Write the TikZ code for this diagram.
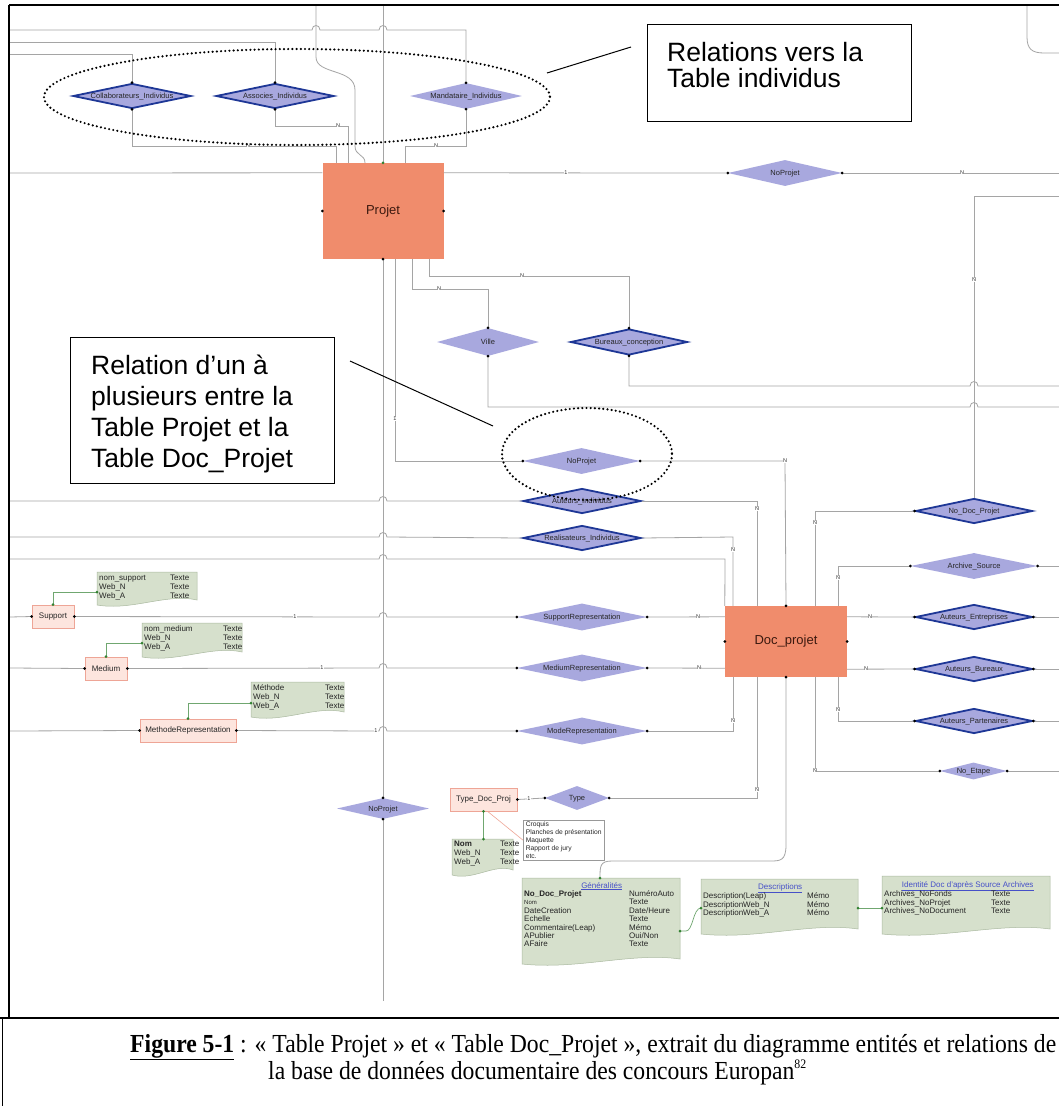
\documentclass[tikz,border=0pt]{standalone}
\usepackage{fontspec}
\usepackage{graphicx}
\setmainfont{Liberation Sans}
\newfontfamily\capfont{Liberation Serif}
\usetikzlibrary{shapes.geometric}
\definecolor{ln}{RGB}{165,165,165}
\definecolor{salm}{RGB}{240,140,108}
\definecolor{enttxt}{RGB}{60,25,15}
\definecolor{lav}{RGB}{168,168,222}
\definecolor{dblue}{RGB}{30,55,150}
\definecolor{pinkf}{RGB}{253,229,222}
\definecolor{pinkb}{RGB}{238,165,150}
\definecolor{tabf}{RGB}{214,224,204}
\definecolor{tabb}{RGB}{170,185,160}
\definecolor{gdot}{RGB}{50,130,50}
\definecolor{hblue}{RGB}{70,80,200}
\newcommand\zl[1]{\makebox[0pt]{#1}}
\tikzset{
  conn/.style={draw=ln, line width=0.8pt},
  gconn/.style={draw=gdot!70, line width=0.7pt},
  ent/.style={rectangle, fill=salm, inner sep=0pt, text=enttxt, font=\fontsize{13}{13}\selectfont},
  relL/.style={diamond, fill=lav, inner sep=0pt, text height=5pt, text depth=0pt, text=black!85, font=\fontsize{7.5}{8}\selectfont},
  relB/.style={relL, draw=dblue, line width=1.8pt},
  card/.style={fill=white, inner sep=0.5pt, font=\fontsize{5.5}{5.5}\selectfont, text=black!80},
  pbox/.style={rectangle, fill=pinkf, draw=pinkb, line width=0.6pt, inner sep=0pt, text=black!85, font=\fontsize{8}{8}\selectfont},
  ttxt/.style={anchor=north west, inner sep=0pt, text=black!85, font=\fontsize{8}{9}\selectfont, align=left},
  btxt/.style={anchor=north west, inner sep=0pt, text=black!85, font=\fontsize{8}{8.4}\selectfont, align=left},
  callbox/.style={draw=black, line width=1pt, rectangle, inner sep=0pt},
  calltxt/.style={anchor=north west, inner sep=0pt, align=left, font=\fontsize{26.5}{26}\selectfont},
  captxt/.style={anchor=base west, inner sep=0pt, font=\capfont\fontsize{26}{26}\selectfont},
  hop/.style 2 args={insert path={-- ({#1-4},#2) .. controls ({#1-4},{#2-6}) and ({#1+4},{#2-6}) .. ({#1+4},#2)}},
  dotted ring/.style={line width=2.4pt, line cap=round, dash pattern=on 0pt off 4.2pt},
}
\newcommand\doctab[4]{%
 \filldraw[fill=tabf, draw=tabb, line width=0.5pt] (#1,#2) -- ({#1+#3},#2) -- ({#1+#3},{#2+#4-5}) .. controls ({#1+0.7*#3},{#2+#4-12}) and ({#1+0.35*#3},{#2+#4+6}) .. (#1,{#2+#4}) -- cycle;}
\newcommand\bd[1]{\fill[black] (#1) circle (1.5pt);}
\newcommand\gd[1]{\fill[gdot] (#1) circle (1.5pt);}
\begin{document}
\begin{tikzpicture}[x=1pt,y=-1pt]
\useasboundingbox (0,0) rectangle (1059,1106);
\fill[white] (0,0) rectangle (1059,1106);

% ---------- entities ----------
\node[ent, minimum width=121pt, minimum height=96pt] (projet) at (383,211) {Projet};
\node[ent, minimum width=122pt, minimum height=71pt] (doc) at (786,641.5) {Doc\_projet};

% ---------- relations ----------
\node[relB, minimum width=118pt, minimum height=25pt] (collab) at (132,96) {\zl{Collaborateurs\_Individus}};
\node[relB, minimum width=118pt, minimum height=25pt] (assoc) at (275,96) {\zl{Associes\_Individus}};
\node[relL, minimum width=112pt, minimum height=26pt] (mand) at (466,96) {\zl{Mandataire\_Individus}};
\node[relL, minimum width=114pt, minimum height=26pt] (np1) at (785,173) {\zl{NoProjet}};
\node[relL, minimum width=102pt, minimum height=28pt] (ville) at (488,342) {\zl{Ville}};
\node[relB, minimum width=117pt, minimum height=26pt] (bur) at (629,342) {\zl{Bureaux\_conception}};
\node[relL, minimum width=117pt, minimum height=26pt] (np2) at (581.5,461) {\zl{NoProjet}};
\node[relB, minimum width=118pt, minimum height=25pt] (aut) at (582,501) {\zl{Auteurs\_Individus}};
\node[relB, minimum width=118pt, minimum height=25pt] (real) at (582,538) {\zl{Realisateurs\_Individus}};
\node[relL, minimum width=130pt, minimum height=27pt] (suprep) at (582,617) {\zl{SupportRepresentation}};
\node[relL, minimum width=130pt, minimum height=27pt] (medrep) at (582,668) {\zl{MediumRepresentation}};
\node[relL, minimum width=130pt, minimum height=27pt] (moderep) at (582,731) {\zl{ModeRepresentation}};
\node[relB, minimum width=117pt, minimum height=25pt] (nodp) at (974,511) {\zl{No\_Doc\_Projet}};
\node[relL, minimum width=127pt, minimum height=26pt] (arch) at (974,566) {\zl{Archive\_Source}};
\node[relB, minimum width=117pt, minimum height=25pt] (ae) at (974,617) {\zl{Auteurs\_Entreprises}};
\node[relB, minimum width=117pt, minimum height=25pt] (ab) at (974,669) {\zl{Auteurs\_Bureaux}};
\node[relB, minimum width=117pt, minimum height=25pt] (ap) at (974,721) {\zl{Auteurs\_Partenaires}};
\node[relL, minimum width=67pt, minimum height=17pt] (ne) at (973.5,771) {\zl{No\_Etape}};
\node[relL, minimum width=92pt, minimum height=21pt] (npb) at (383,808.5) {\zl{NoProjet}};
\node[relL, minimum width=64pt, minimum height=24pt] (type) at (577,798) {\zl{Type}};

% ---------- small entities ----------
\node[pbox, minimum width=42pt, minimum height=23pt] (support) at (53,616.5) {Support};
\node[pbox, minimum width=42pt, minimum height=23pt] (medium) at (106,668.5) {Medium};
\node[pbox, minimum width=96pt, minimum height=23pt] (methode) at (188,730.5) {MethodeRepresentation};
\node[pbox, minimum width=67pt, minimum height=23pt] (tdp) at (483.5,799.5) {Type\_Doc\_Proj};

% ---------- top connectors ----------
\draw[conn] (10,30) [hop={316}{30}] [hop={383}{30}] -- (466,30) -- (mand.north);
\draw[conn] (10,42) -- (275,42) -- (assoc.north);
\draw[conn] (10,54) -- (132,54) -- (collab.north);
\draw[conn] (collab.south) -- (132,146) -- (336,146) -- ([xshift=-47pt]projet.north);
\draw[conn] (assoc.south) -- (275,126) -- (348,126) -- ([xshift=-35pt]projet.north);
\draw[conn] (mand.south) -- (466,146) -- (405,146) -- ([xshift=22pt]projet.north);
\draw[conn] (316,5) -- (316,57) .. controls (316,75) and (355,68) .. (355,90) -- (355,146) .. controls (355,156) and (365,154) .. ([xshift=-18pt]projet.north);
\draw[conn] (383,5) -- (projet.north);
\draw[conn] (10,173) -- ([yshift=-10pt]projet.north west);
\draw[conn] ([yshift=-10pt]projet.north east) -- (np1.west);
\draw[conn] (np1.east) -- (1059,173);
\draw[conn] (1027,5) -- (1027,37) .. controls (1027,49) and (1032,53) .. (1044,53) -- (1059,53);
\draw[conn] (1059,196) -- (974,196) -- (nodp.north);

% ---------- below Projet ----------
\draw[conn] (projet.south) -- (npb.north);
\draw[conn] (npb.south) -- (383,1001);
\draw[conn] ([xshift=12pt]projet.south) -- (395,461) -- (np2.west);
\draw[conn] ([xshift=29pt]projet.south) -- (412,289) -- (488,289) -- (ville.north);
\draw[conn] ([xshift=46pt]projet.south) -- (429,276) -- (629,276) -- (bur.north);
\draw[conn] (ville.south) -- (488,407) [hop={974}{407}] -- (1059,407);
\draw[conn] (bur.south) -- (629,386) [hop={974}{386}] -- (1059,386);
\draw[conn] (np2.east) -- (785,461) -- (doc.north);
\draw[conn] (10,501) [hop={383}{501}] -- (aut.west);
\draw[conn] (aut.east) -- (757,501) -- ([xshift=-29pt]doc.north);
\draw[conn] (10,537) [hop={383}{537}] -- (real.west);
\draw[conn] (real.east) -- (733,537) -- ([xshift=-53pt]doc.north);
\draw[conn] (10,559) [hop={383}{559}] -- (725,559) -- (doc.north west);
\draw[conn] (10,617) -- (support.west);
\draw[conn] (support.east) [hop={383}{617}] -- (suprep.west);
\draw[conn] (suprep.east) -- ([yshift=-11pt]doc.north west);
\draw[conn] (10,668) -- (medium.west);
\draw[conn] (medium.east) [hop={383}{668}] -- (medrep.west);
\draw[conn] (medrep.east) -- ([yshift=9pt]doc.south west);
\draw[conn] (10,731) -- (methode.west);
\draw[conn] (methode.east) [hop={383}{731}] -- (moderep.west);
\draw[conn] (moderep.east) -- (733,731) -- ([xshift=-53pt]doc.south);
\draw[conn] ([xshift=-29pt]doc.south) -- (757,798) -- (type.east);
\draw[conn] (tdp.east) -- (type.west);
\draw[conn] (doc.south) -- (786,845) .. controls (786,861) and (780,861) .. (770,861) -- (612,861) .. controls (600,861) and (600,866) .. (600,878);

% ---------- right of Doc_projet ----------
\draw[conn] (nodp.west) -- (815,511) -- ([xshift=29pt]doc.north);
\draw[conn] (arch.west) -- (838,566) -- ([xshift=52pt]doc.north);
\draw[conn] (arch.east) -- (1059,566);
\draw[conn] ([yshift=-11pt]doc.north east) -- (ae.west);
\draw[conn] (ae.east) -- (1059,617);
\draw[conn] ([yshift=8pt]doc.south east) -- (ab.west);
\draw[conn] (ab.east) -- (1059,669);
\draw[conn] ([xshift=52pt]doc.south) -- (838,721) -- (ap.west);
\draw[conn] (ap.east) -- (1059,721);
\draw[conn] ([xshift=29pt]doc.south) -- (815,771) -- (ne.west);
\draw[conn] (ne.east) -- (1059,771);

% ---------- tables ----------
\doctab{97}{572}{100}{33}
\node[ttxt] (tsup) at (99,574) {\begin{tabular}{@{}p{71pt}@{}l@{}}nom\_support&Texte\\Web\_N&Texte\\Web\_A&Texte\end{tabular}};
\doctab{142}{623}{100}{34}
\node[ttxt] (tmed) at (144,625) {\begin{tabular}{@{}p{79pt}@{}l@{}}nom\_medium&Texte\\Web\_N&Texte\\Web\_A&Texte\end{tabular}};
\doctab{251}{682}{93}{35}
\node[ttxt] (tmeth) at (253,684) {\begin{tabular}{@{}p{72pt}@{}l@{}}Méthode&Texte\\Web\_N&Texte\\Web\_A&Texte\end{tabular}};
\doctab{452}{839}{61}{36}
\node[ttxt] (ttyp) at (454,840) {\begin{tabular}{@{}p{46pt}@{}l@{}}\textbf{Nom}&Texte\\Web\_N&Texte\\Web\_A&Texte\end{tabular}};
\doctab{522}{878}{158}{86}
\node[btxt] (tgen) at (524,882) {\begin{tabular}{@{}p{105pt}@{}p{50pt}@{}}\multicolumn{2}{@{}c@{}}{\color{hblue}\underline{Généralités}}\\
\textbf{No\_Doc\_Projet}&NuméroAuto\\{\fontsize{6}{6}\selectfont Nom}&Texte\\DateCreation&Date/Heure\\Echelle&Texte\\Commentaire(Leap)&Mémo\\APublier&Oui/Non\\AFaire&Texte\end{tabular}};
\doctab{701}{879}{157}{55}
\node[btxt] (tdesc) at (703,883) {\begin{tabular}{@{}p{104pt}@{}p{50pt}@{}}\multicolumn{2}{@{}c@{}}{\color{hblue}\underline{Descriptions}}\\
Description(Leap)&Mémo\\DescriptionWeb\_N&Mémo\\DescriptionWeb\_A&Mémo\end{tabular}};
\doctab{882}{876}{168}{58}
\node[btxt] (tid) at (884,881) {\begin{tabular}{@{}p{107pt}@{}p{60pt}@{}}\multicolumn{2}{@{}c@{}}{\color{hblue}\underline{Identité Doc d'après Source Archives}}\\
Archives\_NoFonds&Texte\\Archives\_NoProjet&Texte\\Archives\_NoDocument&Texte\end{tabular}};
% note
\node[draw=black!40, line width=0.4pt, fill=white, anchor=north west, inner sep=1.5pt, align=left, font=\fontsize{6.7}{8}\selectfont, text=black!85, minimum width=81pt] (note) at (523,820) {Croquis\\Planches de présentation\\Maquette\\Rapport de jury\\etc.};
\draw[draw=pinkb, line width=0.6pt] ([xshift=4pt]tdp.south) -- (note.west);

% green links
\draw[gconn] (support.north) -- (53,592) -- (97,592);
\draw[gconn] (medium.north) -- (106,643) -- (142,643);
\draw[gconn] (methode.north) -- (188,703) -- (251,703);
\draw[gconn] (tdp.south) -- (483.5,839);
\draw[gconn] (680,931) -- (686,931) .. controls (693,931) and (693,908) .. (701,908);
\draw[gconn] (858,908) -- (882,908);
\gd{support.north}\gd{97,592}\gd{medium.north}\gd{142,643}\gd{methode.north}\gd{251,703}
\gd{tdp.south}\gd{483.5,839}\gd{600,878}\gd{680,931}\gd{701,908}\gd{858,908}\gd{882,908}\gd{projet.north}

% ---------- dots ----------
\bd{collab.north}\bd{collab.south}\bd{assoc.north}\bd{assoc.south}\bd{mand.north}\bd{mand.south}
\bd{projet.west}\bd{projet.east}\bd{projet.south}
\bd{np1.west}\bd{np1.east}\bd{ville.north}\bd{ville.south}\bd{bur.north}\bd{bur.south}
\bd{np2.west}\bd{np2.east}\bd{doc.north}\bd{doc.south}\bd{doc.west}\bd{doc.east}
\bd{support.west}\bd{support.east}\bd{medium.west}\bd{medium.east}\bd{methode.west}\bd{methode.east}
\bd{suprep.west}\bd{suprep.east}\bd{medrep.west}\bd{medrep.east}\bd{moderep.west}\bd{moderep.east}
\bd{nodp.west}\bd{arch.west}\bd{arch.east}\bd{ae.west}\bd{ae.east}\bd{ab.west}\bd{ab.east}\bd{ap.west}\bd{ap.east}
\bd{ne.west}\bd{ne.east}\bd{npb.north}\bd{npb.south}\bd{tdp.east}\bd{type.west}\bd{type.east}

% ---------- cardinalities ----------
\foreach \p/\t in {{248,146}/N,{338,126}/N,{436,146}/N,{566,173}/1,{962,173}/N,{974,280}/N,{395,419}/1,{439,289}/N,{522,276}/N,{785,461}/N,{757,509}/N,{733,550}/N,{295,617}/1,{698,617}/N,{322,668}/1,{699,668}/N,{376,731}/1,{733,721}/N,{757,790}/N,{529,799}/1,{815,523}/N,{838,578}/N,{870,617}/N,{866,669}/N,{838,710}/N,{815,771}/N}
  \node[card] at (\p) {\t};

% ---------- dotted rings and callouts ----------
\draw[dotted ring] (297,97) ellipse [x radius=253, y radius=48];
\draw[dotted ring] (587,454) ellipse [x radius=85, y radius=46];
\node[callbox, minimum width=264pt, minimum height=97pt, anchor=north west] (call1) at (647,24) {};
\node[calltxt] (call1t) at (667,42) {Relations vers la\\Table individus};
\coordinate (c1a) at (547,73);
\draw[line width=1pt] (c1a) -- (631,47);
\node[callbox, minimum width=264pt, minimum height=146pt, anchor=north west] (call2) at (70,337) {};
\node[calltxt, font=\fontsize{26.5}{31}\selectfont] (call2t) at (91,355) {Relation d’un à\\plusieurs entre la\\Table Projet et la\\Table Doc\_Projet};
\coordinate (c2a) at (493,426);
\draw[line width=1pt] (350,361) -- (c2a);

% ---------- frame & caption ----------
\draw[line width=2pt] (9,5) -- (1059,5);
\draw[line width=2pt] (9,5) -- (9,1018);
\draw[line width=2pt] (0,1018) -- (1059,1018);
\draw[line width=1pt] (2,1018) -- (2,1106);
\node[captxt] (cap1) at (130,1052) {\resizebox{926pt}{\height}{\underline{\textbf{Figure 5-1}} : « Table Projet » et « Table Doc\_Projet », extrait du diagramme entités et relations de}};
\node[captxt] (cap2) at (268,1079) {\resizebox{538pt}{\height}{la base de données documentaire des concours Europan\raisebox{11pt}{\fontsize{13}{13}\selectfont 82}}};
\end{tikzpicture}
\end{document}
